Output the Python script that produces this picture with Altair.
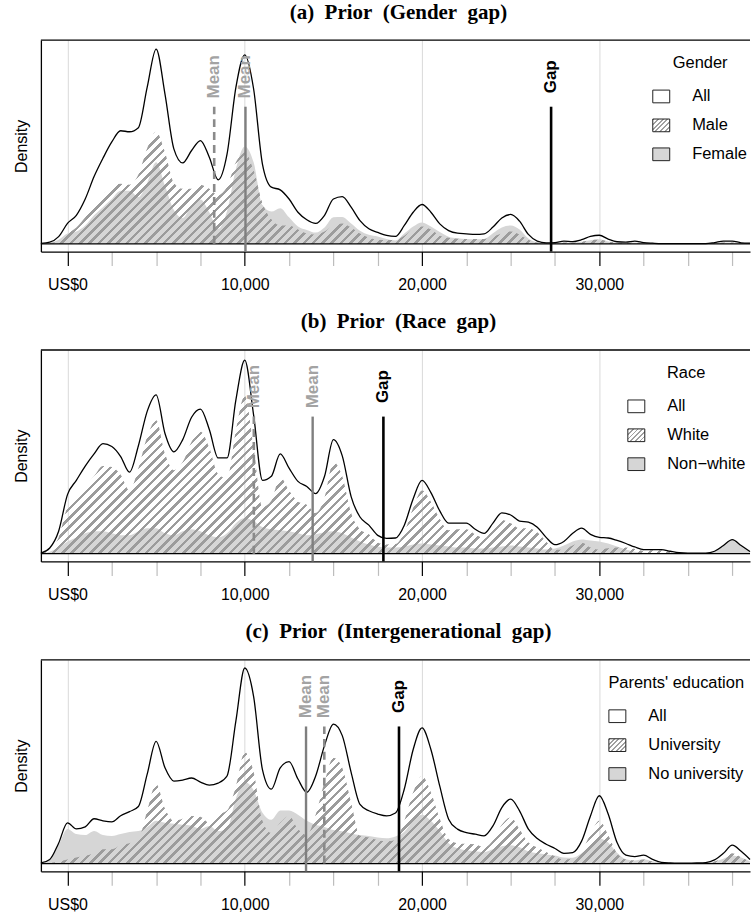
import math
import json
import altair as alt
import pandas as pd

# ------------------------------------------------------------------ data
x_grid = list(range(-1500, 38501, 500))  # sampling positions (US$)

gender_all = [0.2, 0.8, 3.5, 10, 14, 22, 33, 42, 50, 55.5,
              55, 57, 77, 95.6, 73.5, 46.6, 39.7, 45.8, 50.7, 42.5,
              31.4, 44, 76.8, 92.8, 76, 39, 27.8, 26.5, 22, 15.5,
              11.8, 10, 14, 22, 23.2, 18, 11.4, 7.4, 5.6, 4.1,
              3.6, 9, 15.5, 19.3, 15.5, 9.8, 6.5, 5.2, 4.9, 4.6,
              4.9, 8.2, 12.7, 14.4, 11.1, 4.6, 1.3, 0.5, 0.6, 1.3,
              1.1, 2, 3.6, 4.2, 2.3, 1, 0.8, 1.3, 0.6, 0.3,
              0.1, 0.1, 0.1, 0.1, 0.1, 0.1, 0.6, 1.3, 1.3, 0.5,
              0.3]
gender_male = [0, 0.3, 1.5, 5, 8, 13, 19, 24, 28, 29.5,
               29, 34, 47, 55, 45, 30, 27, 27, 29, 27,
               24, 28, 40, 45, 36, 20, 12, 9, 9, 7,
               5, 4.5, 6, 9, 10, 8, 5, 3, 2, 1.8,
               2, 4, 7, 8.5, 7, 4, 3, 2.5, 2.4, 2.3,
               2.4, 3.5, 5, 6, 4.5, 2, 0.6, 0.3, 0.4, 0.6,
               0.5, 1, 1.8, 2, 1.2, 0.5, 0.4, 0.6, 0.3, 0.1,
               0.05, 0.05, 0.05, 0.05, 0.05, 0.1, 0.3, 0.6, 0.6, 0.2,
               0.1]
gender_female = [0.1, 0.5, 2, 5, 6, 9, 14, 18, 22, 26,
                 26, 23, 30, 40, 28.5, 16.6, 12.7, 18.8, 21.7, 15.5,
                 7.4, 16, 36.8, 47.8, 40, 19, 15.8, 17.5, 13, 8.5,
                 6.8, 5.5, 8, 13, 13.2, 10, 6.4, 4.4, 3.6, 2.3,
                 1.6, 5, 8.5, 10.5, 8.5, 5.8, 3.5, 2.7, 2.4, 2.2,
                 2.4, 5.2, 8, 9, 7, 2.6, 0.7, 0.2, 0.3, 0.7,
                 0.6, 1, 1.8, 2.2, 1.1, 0.5, 0.4, 0.7, 0.3, 0.2,
                 0.1, 0.1, 0.1, 0.1, 0.1, 0.1, 0.3, 0.7, 0.7, 0.3,
                 0.2]

race_all = [0.3, 2.8, 11, 29, 36, 43, 49, 54, 52.6, 47.7,
            40, 53, 70, 78, 59, 50, 56, 67, 71, 61,
            47, 47, 75.5, 95, 68, 36, 38, 49, 42, 35.5,
            33, 29.5, 38, 56, 48, 28, 18, 14, 9, 7.5,
            7.7, 14, 27, 36, 30, 21, 15, 15, 15, 12,
            10, 15, 20, 19, 16, 15.5, 13, 8, 4.4, 6,
            10, 12.5, 9.5, 8, 7.7, 6.5, 5, 3.3, 2, 2,
            2, 1.2, 0.5, 0.3, 0.3, 0.3, 1.2, 4, 6.9, 4,
            1]
race_white = [0.2, 1.8, 8, 23, 28, 33, 38, 43, 42.6, 38.7,
              31, 42, 57.5, 65.5, 49, 41, 45, 55, 60, 52,
              39, 37, 60.5, 77.5, 52, 23, 26, 37.5, 31, 25.5,
              24, 20, 27.5, 45, 38, 20, 12, 9.5, 5.5, 4.5,
              4.7, 10.5, 22.5, 31, 25.5, 17, 11.5, 12, 12, 9.5,
              7.5, 12, 16.5, 15, 12.5, 12.5, 10.5, 6, 1.9, 2,
              4, 5.5, 3, 2, 2.7, 3, 3, 2.3, 1.5, 1.7,
              1.7, 1, 0.3, 0.1, 0.1, 0, 0, 0, 0, 0,
              0]
race_nonwhite = [0.1, 1, 3, 6, 8, 10, 11, 11, 10, 9,
                 9, 11, 12.5, 12.5, 10, 9, 11, 12, 11, 9,
                 8, 10, 15, 17.5, 16, 13, 12, 11.5, 11, 10,
                 9, 9.5, 10.5, 11, 10, 8, 6, 4.5, 3.5, 3,
                 3, 3.5, 4.5, 5, 4.5, 4, 3.5, 3, 3, 2.5,
                 2.5, 3, 3.5, 4, 3.5, 3, 2.5, 2, 2.5, 4,
                 6, 7, 6.5, 6, 5, 3.5, 2, 1, 0.5, 0.3,
                 0.3, 0.2, 0.2, 0.2, 0.2, 0.3, 1.2, 4, 6.9, 4,
                 1]

educ_all = [0.3, 2, 10, 20, 17, 18, 22, 21, 20.5, 23.5,
            25.5, 28, 44, 60, 47, 40.5, 41, 42, 40, 38.5,
            39.5, 43, 70, 96, 82, 46, 36.5, 47, 50, 41.5,
            35, 43, 58, 68.5, 62.8, 44.8, 29, 25.9, 24.3, 23.4,
            24.8, 36.6, 56, 66.6, 56, 38, 21.8, 16.9, 15.2, 14.4,
            13.6, 18.5, 27.5, 31.6, 25.9, 16.9, 12.3, 9.5, 7.4, 5,
            5.4, 11, 23.4, 33.3, 24.3, 10.3, 4.1, 3.4, 4.1, 2.1,
            0.6, 0.3, 0.2, 0.2, 0.3, 0.5, 1.8, 5, 9, 6,
            2]
educ_univ = [0, 0.3, 1, 2, 3, 3.8, 5, 7, 7, 9,
             10, 12, 26, 39, 27, 21, 22, 23.4, 23, 20,
             24, 26, 38, 54.6, 45, 21, 15, 20, 23.4, 17,
             14, 24, 40, 52, 47, 30, 13.6, 12.8, 11.5, 11,
             11.5, 21, 35, 43, 35, 22, 12, 10, 9.7, 9.5,
             8, 11.5, 19, 22.6, 16.9, 10.3, 7.9, 5.7, 3.5, 2,
             2.5, 6, 14.4, 21, 14, 5, 2, 1.5, 2, 1,
             0.2, 0.1, 0.1, 0.1, 0.1, 0.1, 1, 2.6, 5, 3,
             1]
educ_nouniv = [0.3, 1.7, 9, 17, 14.5, 14, 16, 14, 13.5, 14.5,
               15.5, 16, 18, 21, 20, 19.5, 19, 18.6, 17, 18.5,
               16, 17, 32, 40, 36, 25, 21.5, 26, 26, 24,
               21, 19, 18, 16.5, 15.8, 14.8, 14, 13.5, 12.8, 12.4,
               13.3, 15.6, 21, 24, 21, 16, 10, 7.5, 6.5, 6,
               5.6, 7, 8.5, 9, 8, 6, 5, 4.5, 4, 3,
               2.9, 5, 9, 12.3, 10.3, 5.3, 2.1, 1.5, 2.1, 1.1,
               0.3, 0.2, 0.2, 0.2, 0.2, 0.2, 1, 2.4, 4, 3,
               1]

tick_values = list(range(0, 37501, 2500))

mean_dashed = [8276, 10512, 14486]
mean_solid = [10040, 13830, 13456]
gap_pos = [27280, 17820, 18700]

panel_titles = ["(a) Prior (Gender gap)", "(b) Prior (Race gap)",
                "(c) Prior (Intergenerational gap)"]
legend_titles = ["Gender", "Race", "Parents' education"]
legend_labels = [["All", "Male", "Female"],
                 ["All", "White", "Non\u2212white"],
                 ["All", "University", "No university"]]
series = [(gender_all, gender_male, gender_female),
          (race_all, race_white, race_nonwhite),
          (educ_all, educ_univ, educ_nouniv)]

# ------------------------------------------------------------------ style
X_MIN, X_MAX = -1500, 38500
Y_MIN, Y_MAX = -3.8, 100
PLOT_W, PLOT_H = 711, 212
LINE_TOP = 67.3
TEXT_Y = 82
FONT = "Liberation Sans"
SERIF = "Liberation Serif"
GRAY_FILL = "#d6d6d6"
HATCH_COL = "#9c9c9c"
legend_x = [613, 588, 569]
legend_y = 15
SWATCH = "M-1,-0.75L1,-0.75L1,0.75L-1,0.75Z"
SWATCH_SIZE = 289


def hatch_gradient(w, h, period, frac, color):
    k = (w + h) / (w * w + h * h)
    step = period * math.sqrt(2) / (w + h)
    stops = []
    t = 0.0
    while t < 1.0 - 1e-9:
        a = round(t, 5)
        b = round(min(t + frac * step, 1.0), 5)
        c = round(min(t + step, 1.0), 5)
        stops += [{"offset": a, "color": color}, {"offset": b, "color": color},
                  {"offset": b, "color": "transparent"}, {"offset": c, "color": "transparent"}]
        t += step
    return {"gradient": "linear", "x1": 0, "y1": 0,
            "x2": round(k * w, 6), "y2": round(k * h, 6), "stops": stops}


px_per_unit = PLOT_H / (Y_MAX - Y_MIN)
legend_hatch = hatch_gradient(17, 12.75, 3.3, 0.42, "#a0a0a0")
legend_hatch_expr = json.dumps(legend_hatch)

xscale = alt.Scale(domain=[X_MIN, X_MAX], nice=False, zero=False)
yscale = alt.Scale(domain=[Y_MIN, Y_MAX], nice=False, zero=False)

x_axis = alt.Axis(
    values=tick_values, title=None,
    labelExpr="datum.value === 0 ? 'US$0' : (datum.value % 10000 === 0 ? format(datum.value, ',') : '')",
    labelFont=FONT, labelFontSize=16, labelColor="black", labelPadding=11,
    labelOverlap=False, labelFlush=False,
    tickSize=14, tickWidth=1.2,
    tickColor={"condition": {"test": "datum.value % 10000 === 0", "value": "black"}, "value": "#bdbdbd"},
    domainColor="black", domainWidth=1.3,
    grid=True, gridWidth=1,
    gridColor={"condition": {"test": "datum.value % 10000 === 0", "value": "#d9d9d9"}, "value": "transparent"},
)
y_axis = alt.Axis(
    title="Density", titleFont=FONT, titleFontSize=16, titleFontWeight="normal",
    titleColor="black", titlePadding=11, ticks=False, labels=False, grid=False,
    domainColor="black", domainWidth=1.3,
)


def panel(i):
    all_v, hatch_v, gray_v = series[i]
    df = pd.DataFrame({"x": x_grid, "all": all_v, "hatch": hatch_v, "gray": gray_v})
    X = alt.X("x:Q", scale=xscale, axis=x_axis, title=None)

    def Y(f):
        return alt.Y(f, type="quantitative", scale=yscale, axis=y_axis)

    base = alt.Chart(df)
    gray = base.mark_area(fill=GRAY_FILL, interpolate="monotone").encode(
        x=X, y=Y("gray"), y2=alt.datum(0))
    hh = max(hatch_v) * px_per_unit
    hatch = base.mark_area(fill=hatch_gradient(PLOT_W, hh, 6.6, 0.38, HATCH_COL),
                           interpolate="monotone").encode(
        x=X, y=Y("hatch"), y2=alt.datum(0))
    line = base.mark_line(color="black", strokeWidth=1.3, interpolate="monotone").encode(
        x=X, y=Y("all"))

    one = alt.Chart(pd.DataFrame({"k": [0]}))
    baseline = one.mark_rule(color="black", strokeWidth=1.3).encode(
        y=alt.YDatum(0, scale=yscale, axis=y_axis))
    topline = one.mark_rule(color="black", strokeWidth=1.3).encode(
        y=alt.YDatum(Y_MAX, scale=yscale, axis=y_axis))

    dl = pd.DataFrame({"x": [mean_dashed[i], mean_solid[i], gap_pos[i]],
                       "kind": ["dashed", "solid", "gap"]})
    lines = alt.Chart(dl)
    r_dash = lines.transform_filter("datum.kind === 'dashed'").mark_rule(
        color="#8a8a8a", strokeWidth=2.6, strokeDash=[8, 5]).encode(
        x=X, y=alt.YDatum(0, scale=yscale, axis=y_axis), y2=alt.datum(LINE_TOP))
    r_solid = lines.transform_filter("datum.kind === 'solid'").mark_rule(
        color="#7f7f7f", strokeWidth=2.4).encode(
        x=X, y=alt.YDatum(Y_MIN, scale=yscale, axis=y_axis), y2=alt.datum(LINE_TOP))
    r_gap = lines.transform_filter("datum.kind === 'gap'").mark_rule(
        color="black", strokeWidth=2.6).encode(
        x=X, y=alt.YDatum(Y_MIN, scale=yscale, axis=y_axis), y2=alt.datum(LINE_TOP))
    t_mean = lines.transform_filter("datum.kind !== 'gap'").mark_text(
        text="Mean", angle=270, align="center", baseline="middle", font=FONT,
        fontSize=17, fontWeight="bold", color="#a3a3a3").encode(
        x=X, y=alt.YDatum(TEXT_Y, scale=yscale, axis=y_axis))
    t_gap = lines.transform_filter("datum.kind === 'gap'").mark_text(
        text="Gap", angle=270, align="center", baseline="middle", font=FONT,
        fontSize=17, fontWeight="bold", color="black").encode(
        x=X, y=alt.YDatum(TEXT_Y, scale=yscale, axis=y_axis))

    names = legend_labels[i]
    leg = alt.Chart(pd.DataFrame({"group": names})).mark_point(
        filled=True, opacity=0, shape=SWATCH).encode(
        fill=alt.Fill("group:N",
                      scale=alt.Scale(domain=names,
                                      range=["white", alt.ExprRef(expr=legend_hatch_expr), GRAY_FILL]),
                      legend=alt.Legend(
                          title=legend_titles[i], orient="none",
                          legendX=legend_x[i], legendY=legend_y,
                          titleAnchor="middle", titleFont=FONT, titleFontSize=16.5,
                          titleFontWeight="normal", titleColor="black", titlePadding=16,
                          labelFont=FONT, labelFontSize=16.5, labelColor="black",
                          labelOffset=22, rowPadding=11, padding=0,
                          symbolType=SWATCH, symbolSize=SWATCH_SIZE,
                          symbolStrokeColor="#222222", symbolStrokeWidth=1,
                          symbolOpacity=1)))

    title = panel_titles[i].replace(" ", "\u2002")
    return alt.layer(gray, hatch, line, baseline, topline, r_dash, r_solid, r_gap,
                     t_mean, t_gap, leg).properties(
        width=PLOT_W, height=PLOT_H,
        title=alt.TitleParams(text=title, font=SERIF, fontSize=21, fontWeight="bold",
                              color="black", anchor="middle", baseline="alphabetic",
                              offset=0, dx=3))


chart = alt.vconcat(panel(0), panel(1), panel(2), spacing=18.7).resolve_scale(
    fill="independent", x="independent", y="independent").resolve_legend(
    fill="independent").properties(
    padding={"left": 14, "top": 0, "right": 0, "bottom": 0},
    background="white").configure_view(stroke=None)

chart.save("out.html", embed_options={"renderer": "svg", "actions": False})
